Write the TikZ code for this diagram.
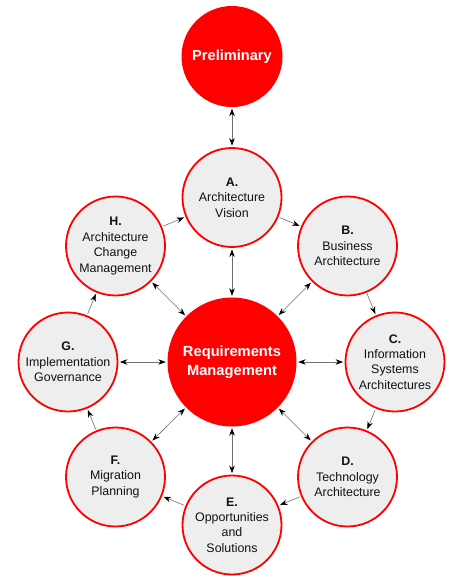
\documentclass[tikz,border=0pt]{standalone}
\usepackage{fontspec}
\setmainfont{Liberation Sans}
\usetikzlibrary{arrows.meta}
\definecolor{ringred}{HTML}{FF0000}
\definecolor{ringfill}{HTML}{EEEEEE}
\definecolor{linegray}{HTML}{707070}
\definecolor{txt}{HTML}{111111}
\tikzset{
  phase/.style={circle, draw=ringred, line width=1.8pt, fill=ringfill, minimum size=99pt, inner sep=0pt, align=center, text=txt, font=\fontsize{12.4}{15.4}\selectfont},
  hub/.style={circle, fill=ringred, minimum size=129pt, inner sep=0pt, align=center, text=white, font=\bfseries\fontsize{14.7}{18.5}\selectfont},
  prelimbox/.style={circle, fill=ringred, minimum size=101pt, inner sep=0pt, align=center, text=white, font=\bfseries\fontsize{14.6}{18}\selectfont},
  oneway/.style={draw=linegray, line width=0.6pt, shorten >=1.5pt, shorten <=1.5pt, -{Stealth[length=7.5pt,width=5.5pt,color=black]}},
  twoway/.style={draw=linegray, line width=0.6pt, shorten >=1.5pt, shorten <=1.5pt, {Stealth[length=7.5pt,width=5.5pt,color=black]}-{Stealth[length=7.5pt,width=5.5pt,color=black]}}
}
\begin{document}
\begin{tikzpicture}[x=1pt,y=-1pt]
\useasboundingbox (0,0) rectangle (451,576);
\node[prelimbox] (P) at (232,56.5) {Preliminary};
\node[hub] (RM) at (232,362) {Requirements\\Management};
\node[phase] (A) at (232,197.5) {\textbf{A.}\\Architecture\\Vision};
\node[phase] (B) at (347.5,246) {\textbf{B.}\\Business\\Architecture};
\node[phase] (C) at (395,362) {\textbf{C.}\\Information\\Systems\\Architectures};
\node[phase] (D) at (347.5,477) {\textbf{D.}\\Technology\\Architecture};
\node[phase] (E) at (232,525) {\textbf{E.}\\Opportunities\\and\\Solutions};
\node[phase] (F) at (115.5,477) {\textbf{F.}\\Migration\\Planning};
\node[phase] (G) at (68,362) {\textbf{G.}\\Implementation\\Governance};
\node[phase] (H) at (115.5,246) {\textbf{H.}\\Architecture\\Change\\Management};
\draw[twoway] (P) -- (A);
\draw[oneway] (A) -- (B);
\draw[oneway] (B) -- (C);
\draw[oneway] (C) -- (D);
\draw[oneway] (D) -- (E);
\draw[oneway] (E) -- (F);
\draw[oneway] (F) -- (G);
\draw[oneway] (G) -- (H);
\draw[oneway] (H) -- (A);
\foreach \n in {A,B,C,D,E,F,G,H} {\draw[twoway] (RM) -- (\n);}
\end{tikzpicture}
\end{document}
